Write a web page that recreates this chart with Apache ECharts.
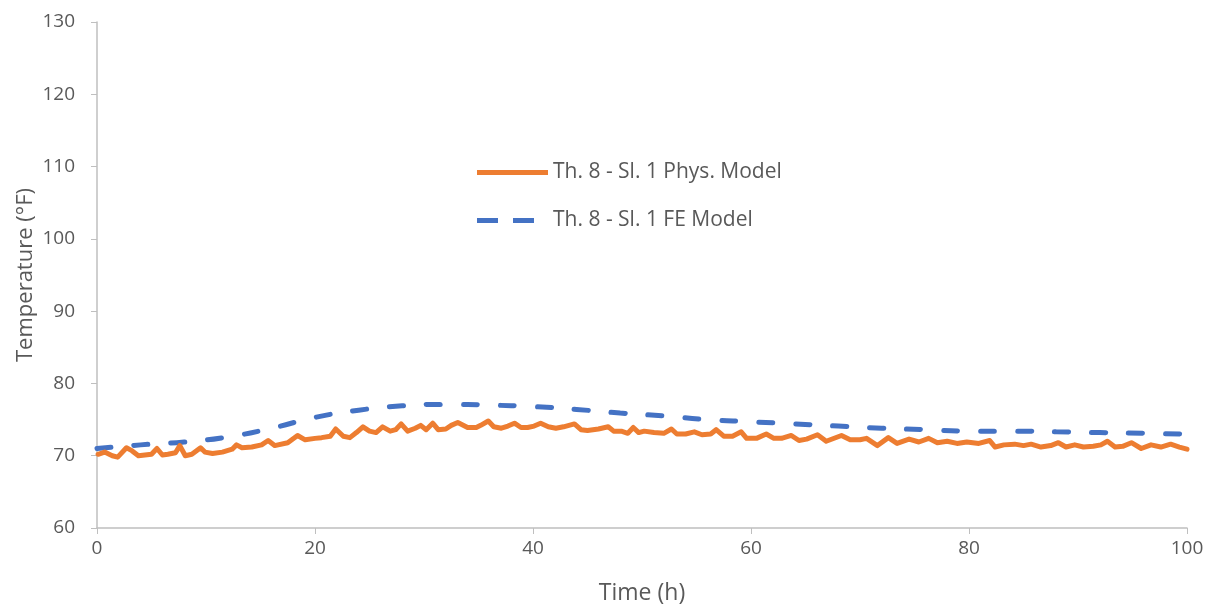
<!DOCTYPE html>
<html>
<head>
<meta charset="utf-8">
<script src="https://cdn.jsdelivr.net/npm/echarts@6/dist/echarts.min.js"></script>
<style>html,body{margin:0;padding:0;background:#fff;}#c{width:1208px;height:608px;}</style>
</head>
<body>
<div id="c"></div>
<script>
const seriesNames = ['Th. 8 - Sl. 1 Phys. Model', 'Th. 8 - Sl. 1 FE Model'];
const yTicks = [60, 70, 80, 90, 100, 110, 120, 130];
const xTicks = [0, 20, 40, 60, 80, 100];

const physTime = [0.1,0.7,1.4,1.9,2.7,3.2,3.8,4.4,5.0,5.5,6.0,6.5,7.2,7.6,8.1,8.7,9.5,9.9,10.6,11.5,12.4,12.8,13.3,14.2,15.1,15.7,16.3,
17.5,18.4,19.1,20.0,20.6,21.4,21.9,22.6,23.2,23.8,24.4,25.0,25.6,26.2,26.9,27.4,27.9,28.5,29.2,29.7,30.2,30.8,31.3,32.0,32.5,33.1,
34.0,34.8,35.2,35.9,36.4,37.1,37.7,38.3,38.9,39.5,40.1,40.7,41.4,42.1,42.8,43.8,44.4,45.0,46.0,46.9,47.4,48.1,48.7,49.2,49.7,50.2,
51.1,52.0,52.7,53.2,54.0,54.8,55.5,56.3,56.8,57.5,58.3,59.1,59.6,60.5,61.4,62.1,62.8,63.7,64.4,65.1,66.1,66.9,
68.3,69.1,70.0,70.6,71.6,72.6,73.4,74.5,75.4,76.3,77.1,78.0,78.9,79.8,80.9,81.9,82.4,83.2,
84.2,85.0,85.7,86.6,87.5,88.2,88.9,89.7,90.5,91.4,92.1,92.7,93.4,94.1,94.9,95.8,96.7,97.6,98.5,99.3,100];
const physTemp = [70.2,70.5,70.0,69.8,71.1,70.7,70.0,70.1,70.2,71.0,70.1,70.2,70.4,71.4,70.0,70.2,71.1,70.5,70.3,70.5,70.9,71.5,71.1,71.2,71.5,72.1,71.4,
71.8,72.8,72.2,72.4,72.5,72.7,73.7,72.7,72.5,73.2,74.0,73.4,73.2,74.0,73.4,73.6,74.4,73.4,73.8,74.2,73.6,74.5,73.6,73.7,74.2,74.6,
73.9,73.9,74.2,74.8,74.0,73.8,74.1,74.5,73.9,73.9,74.1,74.5,74.0,73.8,74.0,74.4,73.6,73.5,73.7,74.0,73.4,73.4,73.1,73.9,73.2,73.4,
73.2,73.1,73.7,73.0,73.0,73.3,72.9,73.0,73.6,72.7,72.7,73.3,72.4,72.4,73.0,72.4,72.4,72.8,72.1,72.3,72.9,72.0,
72.8,72.2,72.2,72.4,71.4,72.5,71.7,72.3,71.9,72.4,71.8,72.0,71.7,71.9,71.7,72.1,71.2,71.5,
71.6,71.4,71.6,71.2,71.4,71.8,71.2,71.5,71.2,71.3,71.5,72.0,71.2,71.3,71.8,71.0,71.5,71.2,71.6,71.2,70.9];

const feTime = [0,4,8,12,16,20,24,28,32,36,40,44,48,52,56,60,64,68,72,76,80,84,88,92,96,100];
const feTemp = [71.0,71.5,71.9,72.6,73.8,75.3,76.3,76.9,77.1,77.0,76.8,76.4,75.9,75.5,75.0,74.7,74.4,74.1,73.8,73.6,73.4,73.4,73.3,73.2,73.1,73.0];

const font = '"Open Sans", "Noto Sans", sans-serif';
const txt = '#595959';
const axisCol = '#bfbfbf';
const orange = '#ED7D31';
const blue = '#4472C4';

const chart = echarts.init(document.getElementById('c'), null, {renderer: 'canvas'});
chart.setOption({
  animation: false,
  backgroundColor: '#ffffff',
  grid: {left: 97, right: 21, top: 22, bottom: 80, containLabel: false, outerBoundsMode: 'none'},
  legend: {
    orient: 'vertical', left: 472, top: 157, itemGap: 27, padding: 5,
    itemWidth: 71, itemHeight: 5, symbolKeepAspect: false,
    textStyle: {fontFamily: font, fontSize: 21, color: txt},
    data: [
      {name: seriesNames[0], icon: 'path://M0,0h71v5h-71z', itemStyle: {color: orange}},
      {name: seriesNames[1], icon: 'path://M0,0h21v5h-21z M36,0h21v5h-21z M70.8,2.4h0.2v0.2h-0.2z', itemStyle: {color: blue}}
    ]
  },
  xAxis: {
    type: 'value', min: 0, max: 100, interval: 20,
    name: 'Time (h)', nameLocation: 'middle', nameGap: 54, nameMoveOverlap: false,
    nameTextStyle: {fontFamily: font, fontSize: 23, color: txt},
    axisLine: {show: true, lineStyle: {color: axisCol, width: 1.5}},
    axisTick: {show: true, length: 6, lineStyle: {color: axisCol}},
    axisLabel: {fontFamily: font, fontSize: 19, color: txt, margin: 11,
      formatter: v => xTicks.includes(v) ? String(v) : ''},
    splitLine: {show: false}
  },
  yAxis: {
    type: 'value', min: 60, max: 130, interval: 10,
    name: 'Temperature (°F)', nameLocation: 'middle', nameGap: 60, nameMoveOverlap: false,
    nameTextStyle: {fontFamily: font, fontSize: 22, color: txt},
    axisLine: {show: true, lineStyle: {color: axisCol, width: 1.5}},
    axisTick: {show: true, length: 6, lineStyle: {color: axisCol}},
    axisLabel: {fontFamily: font, fontSize: 19, color: txt, margin: 22,
      formatter: v => yTicks.includes(v) ? String(v) : ''},
    splitLine: {show: false}
  },
  series: [
    {
      name: seriesNames[0], type: 'line', symbol: 'none', smooth: false,
      data: physTime.map((t, i) => [t, physTemp[i]]),
      lineStyle: {color: orange, width: 5, cap: 'round', join: 'round'},
      itemStyle: {color: orange}, z: 3
    },
    {
      name: seriesNames[1], type: 'line', symbol: 'none', smooth: true,
      data: feTime.map((t, i) => [t, feTemp[i]]),
      lineStyle: {color: blue, width: 5, type: [14, 23], cap: 'round'},
      itemStyle: {color: blue}, z: 2
    }
  ]
});
</script>
</body>
</html>
